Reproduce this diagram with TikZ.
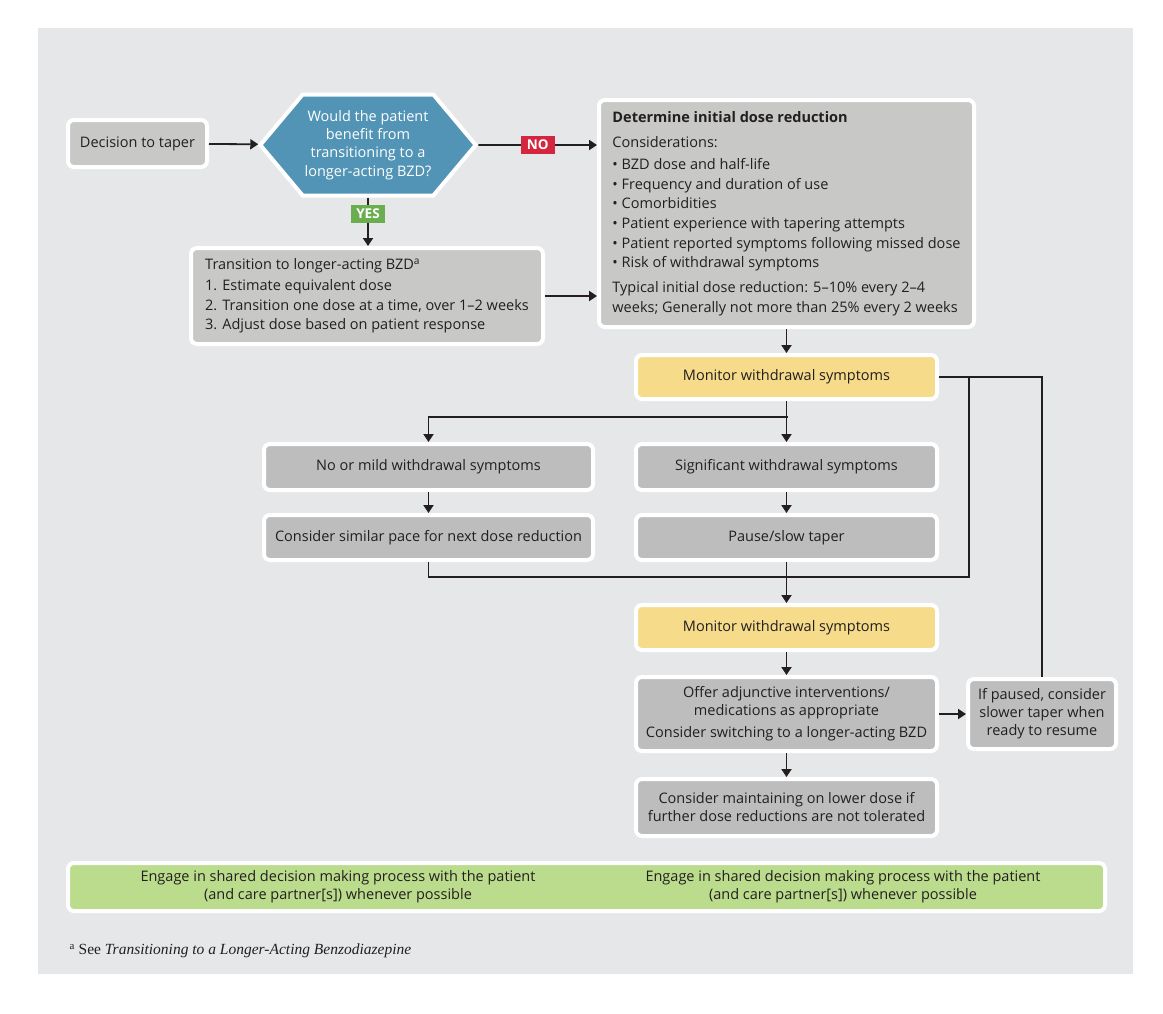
\documentclass[tikz,border=0pt]{standalone}
\usepackage{fontspec}
\setmainfont{Open Sans}
\newfontfamily\notefont{Liberation Serif}
\usetikzlibrary{shapes,shapes.symbols,arrows.meta,positioning,calc}

\definecolor{ink}{HTML}{231F20}
\definecolor{panel}{HTML}{E6E7E8}
\definecolor{boxgray}{HTML}{C8C8C7}
\definecolor{midgray}{HTML}{BCBDBC}
\definecolor{hexblue}{HTML}{5294B5}
\definecolor{noRed}{HTML}{D5263F}
\definecolor{yesGreen}{HTML}{6BAE50}
\definecolor{monYellow}{HTML}{F6DB8A}
\definecolor{shareGreen}{HTML}{BBDC8C}

\begin{document}
\begin{tikzpicture}[x=1pt, y=-1pt, >={Triangle[width=10pt,length=8pt]},
    every node/.append style={font=\fontsize{14.5}{18}\selectfont, text=ink}]
  \tikzstyle{box} = [rectangle, rounded corners=6pt, draw=white, line width=4pt,
    fill=boxgray, align=center, inner sep=4pt]
  \tikzstyle{midbox} = [box, fill=midgray, minimum width=301pt]
  \tikzstyle{monitor} = [box, fill=monYellow, minimum width=301pt, minimum height=44pt]
  \tikzstyle{question} = [signal, signal to=east and west, signal pointer angle=100,
    fill=hexblue, draw=white, line width=4pt, text=white, align=center, inner sep=2pt,
    minimum width=210pt, minimum height=101pt, font=\fontsize{14.5}{18.2}\selectfont]
  \tikzstyle{tag} = [rectangle, inner sep=0pt, minimum width=34pt, minimum height=18pt,
    text=white, font=\fontsize{13.5}{14}\selectfont\bfseries]
  \tikzstyle{link} = [draw=ink, line width=1.8pt]

  % panel
  \fill[panel] (38,28) rectangle (1133,974);
  \useasboundingbox (0,0) rectangle (1163,1013);

  % top row
  \node (dec) [box, minimum width=139pt, minimum height=47pt] at (137.5,143.5) {Decision to taper};
  \node (ask) [question] at (368,145) {Would the patient\\benefit from\\transitioning to a\\longer-acting BZD?};
  \node (trans) [box, minimum width=352pt, minimum height=96pt, align=left,
    font=\fontsize{14.5}{19.6}\selectfont] at (367,296)
    {Transition to longer-acting BZD\textsuperscript{a}\\[1.5pt]%
     1. Estimate equivalent dose\\%
     2. Transition one dose at a time, over 1–2 weeks\\%
     3. Adjust dose based on patient response};
  \node (det) [box, minimum width=375pt, minimum height=227pt, align=left,
    font=\fontsize{14.5}{19.6}\selectfont] at (786.5,213.5)
    {{\bfseries Determine initial dose reduction}\\[6pt]%
     Considerations:\\[2.5pt]%
     • BZD dose and half-life\\%
     • Frequency and duration of use\\%
     • Comorbidities\\%
     • Patient experience with tapering attempts\\%
     • Patient reported symptoms following missed dose\\%
     • Risk of withdrawal symptoms\\[5.5pt]%
     Typical initial dose reduction: 5–10\% every 2–4\\%
     weeks; Generally not more than 25\% every 2 weeks};

  % monitoring column
  \node (mon1) [monitor, below=24pt of det] {Monitor withdrawal symptoms};
  \node (sig) [midbox, minimum height=46pt, below=41pt of mon1] {Significant withdrawal symptoms};
  \node (mild) [midbox, minimum width=329pt, minimum height=46pt, left=39pt of sig] {No or mild withdrawal symptoms};
  \node (similar) [midbox, minimum width=329pt, minimum height=45pt, below=21pt of mild] {Consider similar pace for next dose reduction};
  \node (pause) [midbox, minimum height=45pt, below=21pt of sig] {Pause/slow taper};
  \node (mon2) [monitor, minimum height=45pt, below=41pt of pause] {Monitor withdrawal symptoms};
  \node (offer) [midbox, minimum height=74pt, below=23pt of mon2]
    {Offer adjunctive interventions/\\medications as appropriate\\[4pt]Consider switching to a longer-acting BZD};
  \node (maint) [midbox, minimum height=57pt, below=24pt of offer]
    {Consider maintaining on lower dose if\\further dose reductions are not tolerated};
  \node (paused) [midbox, minimum width=148pt, minimum height=70pt, right=27pt of offer]
    {If paused, consider\\slower taper when\\ready to resume};

  % shared decision bar
  \node (share) [box, fill=shareGreen, minimum width=1037pt, minimum height=48pt] at (586.5,887) {};
  \node (shareL) [align=center] at (338,887) {Engage in shared decision making process with the patient\\(and care partner[s]) whenever possible};
  \node (shareR) [align=center] at (843,887) {Engage in shared decision making process with the patient\\(and care partner[s]) whenever possible};

  % footnote
  \node (note) [anchor=west, font=\notefont\fontsize{15.5}{17}\selectfont] at (66,951)
    {\textsuperscript{a} See \textit{Transitioning to a Longer-Acting Benzodiazepine}};

  \coordinate (split) at (787.5,417);
  \coordinate (merge) at (787.5,577);
  \coordinate (loop) at (969,377);

  % connectors
  \draw[link, ->] (dec) -- (ask);
  \draw[link, ->] (ask) -- node[tag, fill=noRed] {NO} (ask -| det.west);
  \draw[link, ->] (ask.south) -- node[tag, fill=yesGreen, pos=0.34] {YES} (ask.south |- trans.north);
  \draw[link, ->] (trans) -- (trans -| det.west);
  \draw[link, ->] (mon1.north |- det.south) -- (mon1.north);
  \draw[link, ->] (mon1) -- (sig);
  \draw[link, ->] (split) -| (mild);
  \draw[link, ->] (mild) -- (similar);
  \draw[link, ->] (sig) -- (pause);
  \draw[link] (similar) |- (merge);
  \draw[link, ->] (pause) -- (mon2);
  \draw[link] (mon1) -| (paused);
  \draw[link] (loop) |- (merge);
  \draw[link, ->] (mon2) -- (offer);
  \draw[link, ->] (offer) -- (maint);
  \draw[link, ->] (offer) -- (paused);
\end{tikzpicture}
\end{document}
